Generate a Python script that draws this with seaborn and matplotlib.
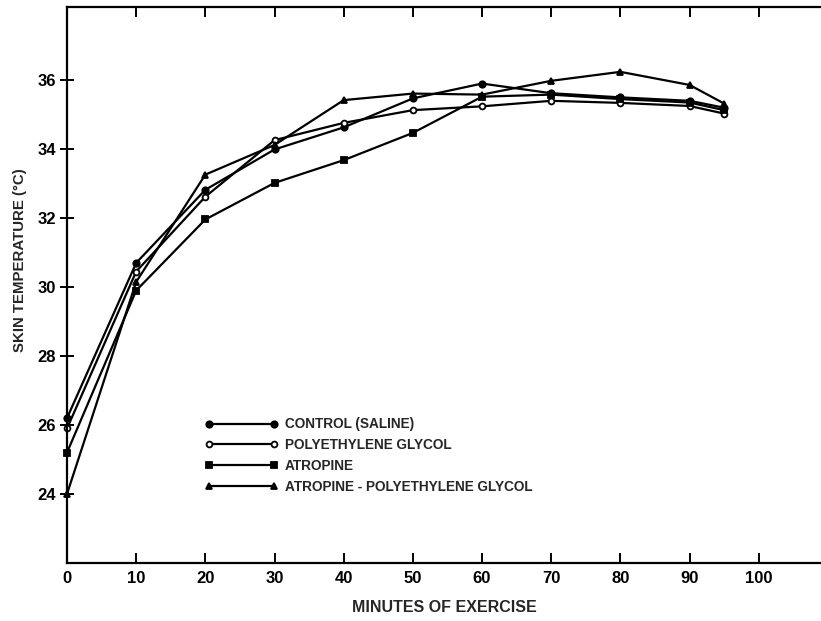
import matplotlib
matplotlib.use("Agg")
import matplotlib.pyplot as plt
import pandas as pd
import seaborn as sns

# ---- data ----
minutes = [0, 10, 20, 30, 40, 50, 60, 70, 80, 90, 95]
control_saline = [26.2, 30.7, 32.82, 33.99, 34.63, 35.47, 35.9, 35.62, 35.5, 35.4, 35.2]
polyethylene_glycol = [25.9, 30.45, 32.62, 34.26, 34.76, 35.13, 35.24, 35.4, 35.34, 35.25, 35.03]
atropine = [25.2, 29.9, 31.96, 33.02, 33.68, 34.47, 35.52, 35.58, 35.45, 35.35, 35.13]
atropine_peg = [24.0, 30.15, 33.26, 34.12, 35.42, 35.61, 35.58, 35.98, 36.24, 35.86, 35.32]

series_names = ["CONTROL (SALINE)", "POLYETHYLENE GLYCOL", "ATROPINE",
                "ATROPINE - POLYETHYLENE GLYCOL"]
x_ticks = [0, 10, 20, 30, 40, 50, 60, 70, 80, 90, 100]
y_ticks = [24, 26, 28, 30, 32, 34, 36]

rows = []
for name, vals in zip(series_names, [control_saline, polyethylene_glycol, atropine, atropine_peg]):
    for m, v in zip(minutes, vals):
        rows.append({"series": name, "minutes": m, "temp": v})
df = pd.DataFrame(rows)

sns.set_theme(style="ticks")
plt.rcParams["font.family"] = ["Liberation Sans", "DejaVu Sans"]
plt.rcParams["font.weight"] = "bold"

fig = plt.figure(figsize=(8.21, 6.21), dpi=100)
ax = fig.add_axes([67 / 821, 1 - 563 / 621, 754 / 821, 556 / 621])

marker_styles = {
    "CONTROL (SALINE)": ("o", "black", 4.6),
    "POLYETHYLENE GLYCOL": ("o", "white", 4.2),
    "ATROPINE": ("s", "black", 4.4),
    "ATROPINE - POLYETHYLENE GLYCOL": ("^", "black", 4.8),
}
for name in series_names:
    mk, fc, ms = marker_styles[name]
    sns.lineplot(data=df[df["series"] == name], x="minutes", y="temp", ax=ax,
                 color="black", marker=mk, markerfacecolor=fc,
                 markeredgecolor="black", markeredgewidth=1.3, markersize=ms,
                 linewidth=1.6, label=name, clip_on=False)

ax.set_xlim(0, 109)
ax.set_ylim(22, 38.12)
ax.set_xticks(x_ticks)
ax.set_yticks(y_ticks)
ax.set_xticklabels([str(t) for t in x_ticks], fontsize=12, fontweight="bold")
ax.set_yticklabels([str(t) for t in y_ticks], fontsize=12, fontweight="bold")

for s in ["left", "top", "bottom"]:
    ax.spines[s].set_linewidth(1.6)
    ax.spines[s].set_color("black")
ax.spines["right"].set_visible(False)

ax.tick_params(axis="x", direction="in", length=7, width=1.4, top=True,
               labeltop=False, pad=6, colors="black")
ax.tick_params(axis="y", direction="inout", length=10, width=1.4, pad=3,
               colors="black")

ax.set_xlabel("MINUTES OF EXERCISE", fontsize=11.5, fontweight="bold", labelpad=10)
ax.set_ylabel("SKIN TEMPERATURE (°C)", fontsize=10.8, fontweight="bold")
ax.yaxis.set_label_coords(-0.053, 0.545)

handles, labels = ax.get_legend_handles_labels()
leg = ax.legend(handles, labels, loc="upper left", bbox_to_anchor=(0.183, 0.262),
                frameon=False, numpoints=2, handlelength=5.4, handletextpad=0.45,
                labelspacing=0.5, borderaxespad=0, borderpad=0,
                prop={"size": 9.8, "weight": "bold"})

fig.savefig("out.png", dpi=100)
